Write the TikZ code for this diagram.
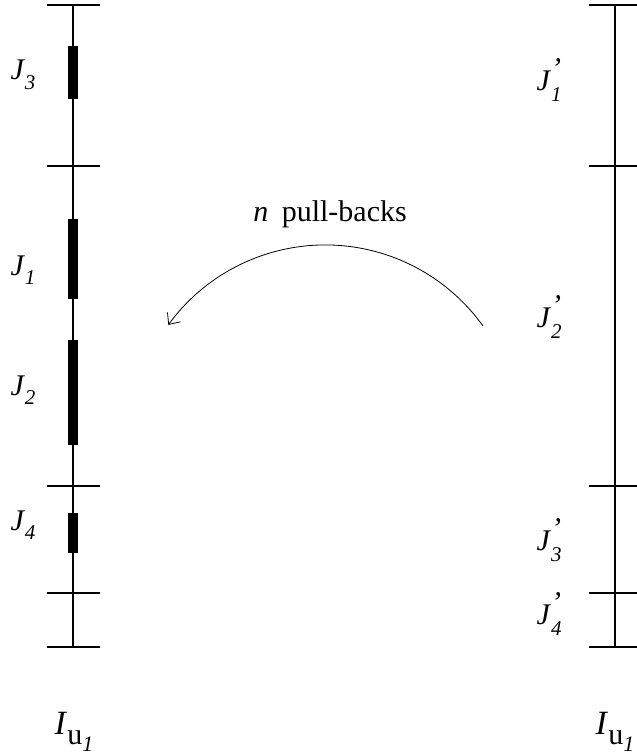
\documentclass[tikz,border=0pt]{standalone}
\usepackage{fontspec}
\setmainfont{Liberation Serif}
\usetikzlibrary{arrows.meta}
\newcommand{\subsz}{\fontsize{21}{21}\selectfont}
\newcommand{\Jl}[1]{\textit{J}\raisebox{-0.32em}{\subsz\textit{#1}}}
\newcommand{\Jp}[1]{\textit{J}\makebox[0pt][l]{\raisebox{0.42em}{\textit{’}}}\raisebox{-0.36em}{\subsz\textit{#1}}}
\newcommand{\Iu}{{\fontsize{34}{34}\selectfont\textit{I}}\raisebox{-10pt}{\fontsize{30}{30}\selectfont u\raisebox{-7pt}{\fontsize{22}{22}\selectfont\textit{1}}}}
\begin{document}
\begin{tikzpicture}[x=1pt,y=-1pt,
  axis/.style={line width=2pt},
  tick/.style={line width=1.3pt},
  bar/.style={fill=black,draw=none},
  lab/.style={font=\fontsize{30}{34}\selectfont,inner sep=0pt,anchor=center}]
\useasboundingbox (0,0) rectangle (637,755);
% left axis
\coordinate (lt) at (73,5);
\coordinate (lb) at (73,647);
\draw[axis] (lt) -- (lb);
\foreach \y in {5,166,486,593,647}{
  \draw[tick] (47,\y) -- (100,\y);
}
\fill[bar] (68,46) rectangle (78,99);
\fill[bar] (68,219) rectangle (78,299);
\fill[bar] (68,340) rectangle (78,445);
\fill[bar] (68,513) rectangle (78,553);
% right axis
\coordinate (rt) at (615,5);
\coordinate (rb) at (615,647);
\draw[axis] (rt) -- (rb);
\foreach \y in {5,166,486,593,647}{
  \draw[tick] (589,\y) -- (640,\y);
}
% labels left
\node[lab] (j3) at (23,75) {\Jl{3}};
\node[lab] (j1) at (23,270) {\Jl{1}};
\node[lab] (j2) at (23,390) {\Jl{2}};
\node[lab] (j4) at (23,525) {\Jl{4}};
% labels right
\node[lab] (jp1) at (549,80) {\Jp{1}};
\node[lab] (jp2) at (549,317) {\Jp{2}};
\node[lab] (jp3) at (549,540) {\Jp{3}};
\node[lab] (jp4) at (549,614) {\Jp{4}};
% bottom labels
\node[lab] (il) at (74,732) {\Iu};
\node[lab] (ir) at (615,732) {\Iu};
% arc
\node[lab] (pb) at (330,214) {\textit{n}\hspace{0.45em}pull-backs};
\coordinate (as) at (483,326);
\draw[line width=0.8pt,-{Straight Barb[length=9pt,width=16pt]}] (as) arc[start angle=35.6,end angle=144,radius=194pt] coordinate (ae);
\end{tikzpicture}
\end{document}
